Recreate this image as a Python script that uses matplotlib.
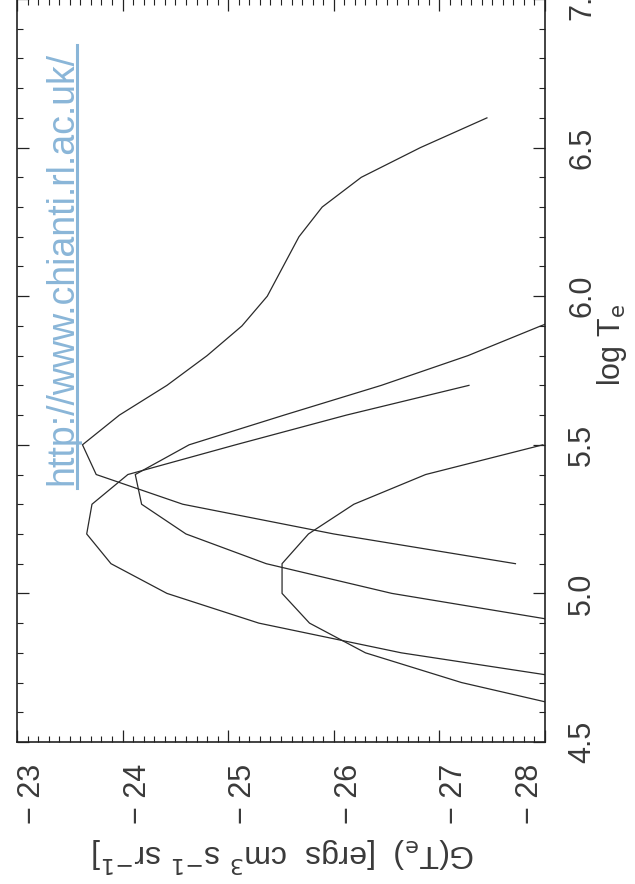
import matplotlib
matplotlib.use("Agg")
import matplotlib.pyplot as plt
from matplotlib.ticker import MultipleLocator

# ==========================
# DATA  (log T on the vertical, G(T) on the horizontal)
# ==========================

logt_a = [5.1, 5.2, 5.3, 5.4, 5.5, 5.6, 5.7, 5.8, 5.9, 6.0, 6.1, 6.2, 6.3, 6.4, 6.5, 6.6]
g_a = [-27.72, -26.00, -24.57, -23.75, -23.62, -23.97, -24.42, -24.80,
       -25.13, -25.37, -25.52, -25.67, -25.89, -26.26, -26.82, -27.45]

logt_b = [4.9, 5.0, 5.1, 5.2, 5.3, 5.4, 5.5, 5.6, 5.7, 5.8, 5.9, 6.0]
g_b = [-28.25, -26.55, -25.36, -24.60, -24.18, -24.12, -24.63, -25.53,
       -26.45, -27.27, -27.96, -28.70]

logt_c = [4.7, 4.8, 4.9, 5.0, 5.1, 5.2, 5.3, 5.4, 5.5, 5.6, 5.7]
g_c = [-28.49, -26.64, -25.29, -24.42, -23.89, -23.66, -23.71, -24.05,
       -25.07, -26.12, -27.28]

logt_d = [4.6, 4.7, 4.8, 4.9, 5.0, 5.1, 5.2, 5.3, 5.4, 5.5]
g_d = [-28.43, -27.21, -26.30, -25.77, -25.51, -25.51, -25.76, -26.19,
       -26.87, -27.98]

g_ticks = [-23, -24, -25, -26, -27, -28]
logt_ticks = [4.5, 5.0, 5.5, 6.0, 6.5, 7.0]

url = "http://www.chianti.rl.ac.uk/"

# ==========================
# FIGURE
# ==========================

plt.rcParams["font.family"] = ["Liberation Sans Narrow", "Liberation Sans", "DejaVu Sans"]
plt.rcParams["mathtext.fontset"] = "custom"
plt.rcParams["mathtext.rm"] = "Liberation Sans Narrow"
plt.rcParams["mathtext.it"] = "Liberation Sans Narrow"

fig = plt.figure(figsize=(6.35, 8.84), dpi=100)
ax = fig.add_axes([17 / 635, 142 / 884, 528 / 635, 743 / 884])

for gx, ty in [(g_a, logt_a), (g_b, logt_b), (g_c, logt_c), (g_d, logt_d)]:
    ax.plot(gx, ty, color="#2a2a2a", lw=0.9)

ax.set_xlim(-23, -28)
ax.set_ylim(4.5, 7.0)

ax.set_xticks(g_ticks)
ax.set_yticks(logt_ticks)
ax.xaxis.set_minor_locator(MultipleLocator(0.1))
ax.yaxis.set_minor_locator(MultipleLocator(0.1))

ax.tick_params(which="both", direction="in", top=True, right=True,
               left=True, bottom=True, labelleft=False, labelright=True,
               labelsize=22, labelcolor="#3a3a3a", color="#222222")
ax.tick_params(which="major", length=8.6, width=0.9)
ax.tick_params(which="minor", length=4.3, width=0.8)
ax.tick_params(axis="x", pad=16, labelrotation=90)
ax.tick_params(axis="y", pad=16, labelrotation=90)

ax.set_xticklabels([f"{v:d}".replace("-", "\u2212 ") for v in g_ticks])
ax.set_yticklabels([f"{v:.1f}" for v in logt_ticks])
for lab in ax.get_xticklabels():
    lab.set_ha("left")
    lab.set_va("top")
ax.get_xticklabels()[-1].set_ha("right")
for lab in ax.get_yticklabels():
    lab.set_ha("left")
    lab.set_va("center")

for s in ax.spines.values():
    s.set_linewidth(1.2)
    s.set_color("#222222")

ax.set_xlabel(r"G(T$_\mathrm{e}$)  [ergs  cm$^3$ s$^{-1}$ sr$^{-1}$]",
              fontsize=23, color="#3a3a3a", rotation=180)
ax.xaxis.set_label_coords(0.504, -0.152)
ax.xaxis.label.set_va("center")

ax.yaxis.set_label_position("right")
ax.set_ylabel(r"log T$_\mathrm{e}$", fontsize=22, color="#3a3a3a", rotation=90)
ax.yaxis.set_label_coords(1.127, 0.534)
ax.yaxis.label.set_va("center")

# url watermark
ax.text(-23.528, 5.366, url, rotation=90, rotation_mode="anchor",
        ha="left", va="baseline", fontsize=27,
        family=["Liberation Sans", "DejaVu Sans"], color="#8ab6d8")
ax.plot([-23.57, -23.57], [5.356, 6.846], color="#8ab6d8", lw=2.2)

fig.savefig("out.png", dpi=100)
